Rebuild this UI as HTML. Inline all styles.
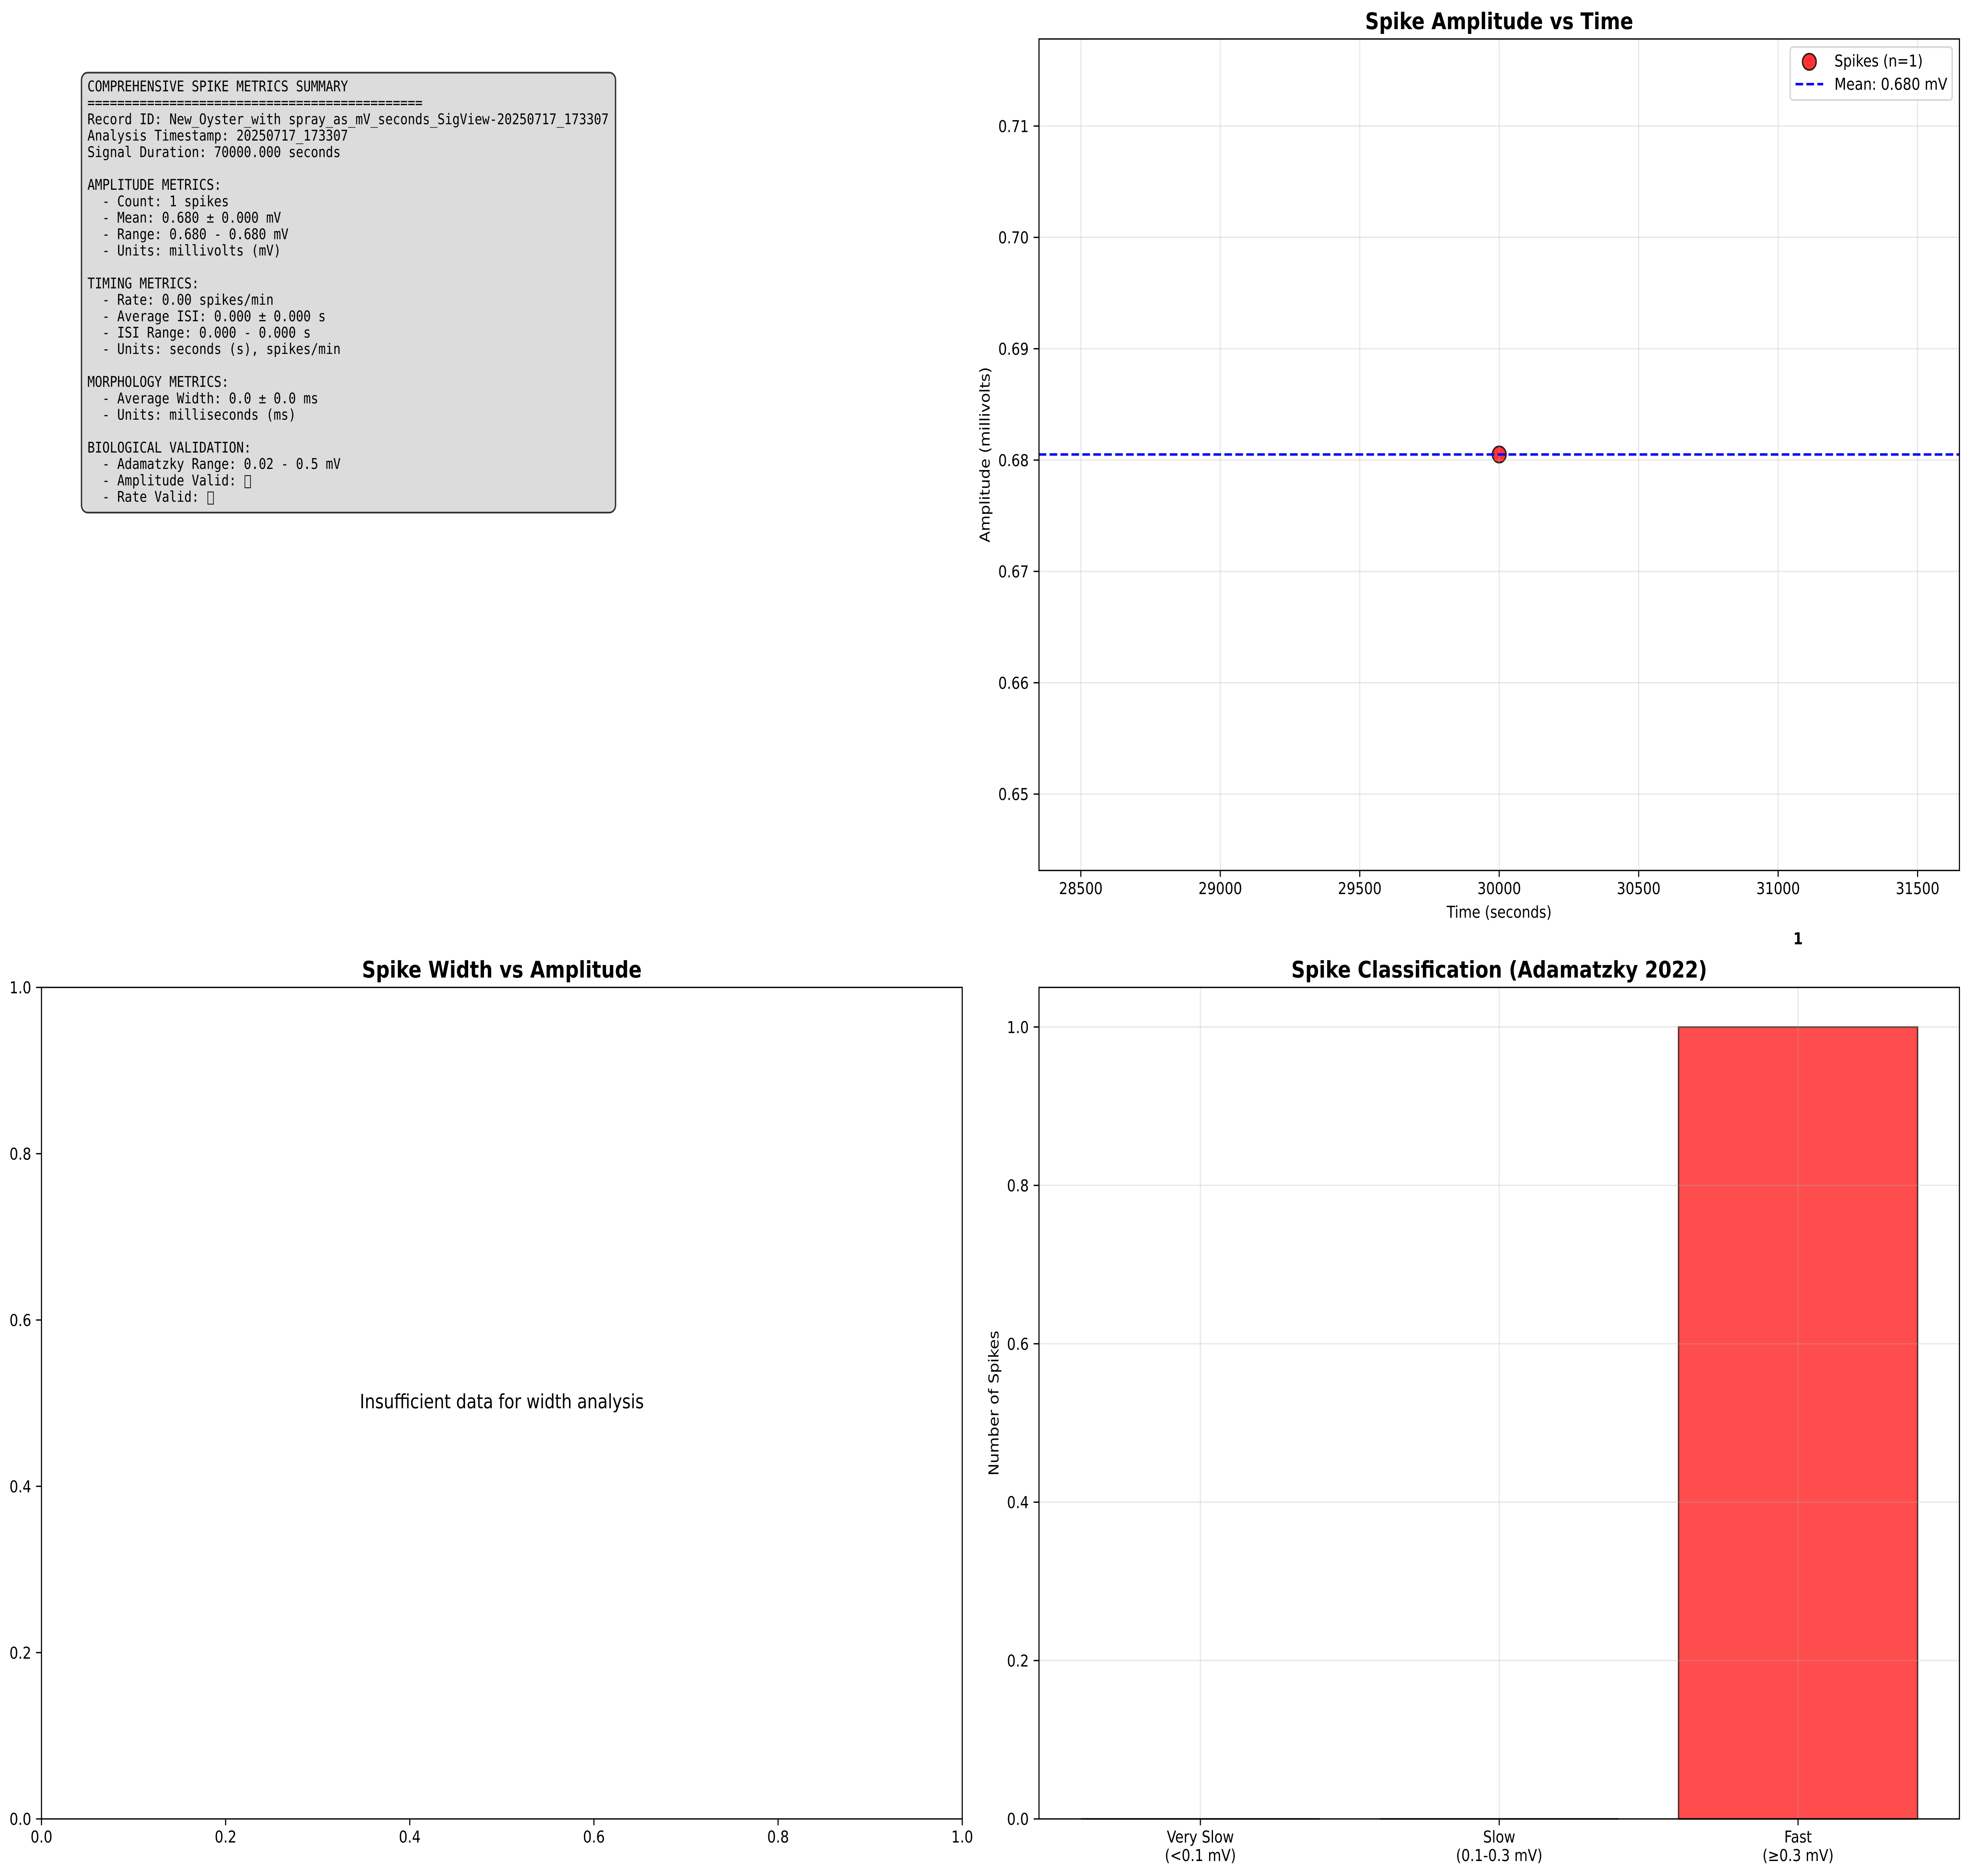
<!DOCTYPE html>
<html lang="en">
<head>
<meta charset="utf-8">
<title>Spike Metrics Summary</title>
<style>
html,body{margin:0;padding:0;background:#fff;width:100%;height:100%;overflow:hidden}
svg{display:block;width:100vw;height:100vh}
text{font-family:"DejaVu Sans",sans-serif;font-size:41.67px;fill:#000;text-rendering:geometricPrecision}
.mono text{font-family:"DejaVu Sans Mono",monospace;font-size:37.5px;white-space:pre}
.title{font-size:58.33px;font-weight:bold;text-anchor:middle}
</style>
</head>
<body>
<svg id="fig" xmlns="http://www.w3.org/2000/svg" viewBox="0 0 5969 4765" preserveAspectRatio="none">
  <rect x="0" y="0" width="5969" height="4765" fill="#fff"/>

  <g class="mono" xml:space="preserve">
    <rect x="247" y="184.5" width="1619" height="1117.5" rx="18.75" ry="18.75" fill="#dcdcdc" stroke="#333" stroke-width="4.17"/>
    <text x="265" y="232">COMPREHENSIVE SPIKE METRICS SUMMARY</text>
    <text x="265" y="273.7">=============================================</text>
    <text x="265" y="315.4">Record ID: New_Oyster_with spray_as_mV_seconds_SigView-20250717_173307</text>
    <text x="265" y="357.1">Analysis Timestamp: 20250717_173307</text>
    <text x="265" y="398.8">Signal Duration: 70000.000 seconds</text>
    <text x="265" y="482.2">AMPLITUDE METRICS:</text>
    <text x="265" y="523.9">  - Count: 1 spikes</text>
    <text x="265" y="565.6">  - Mean: 0.680 ± 0.000 mV</text>
    <text x="265" y="607.3">  - Range: 0.680 - 0.680 mV</text>
    <text x="265" y="649">  - Units: millivolts (mV)</text>
    <text x="265" y="732.4">TIMING METRICS:</text>
    <text x="265" y="774.1">  - Rate: 0.00 spikes/min</text>
    <text x="265" y="815.8">  - Average ISI: 0.000 ± 0.000 s</text>
    <text x="265" y="857.5">  - ISI Range: 0.000 - 0.000 s</text>
    <text x="265" y="899.2">  - Units: seconds (s), spikes/min</text>
    <text x="265" y="982.6">MORPHOLOGY METRICS:</text>
    <text x="265" y="1024.3">  - Average Width: 0.0 ± 0.0 ms</text>
    <text x="265" y="1066">  - Units: milliseconds (ms)</text>
    <text x="265" y="1149.4">BIOLOGICAL VALIDATION:</text>
    <text x="265" y="1191.1">  - Adamatzky Range: 0.02 - 0.5 mV</text>
    <text x="265" y="1232.8">  - Amplitude Valid: </text>
    <rect x="742.5" y="1208" width="17" height="31" fill="none" stroke="#000" stroke-width="2"/>
    <text x="265" y="1274.5">  - Rate Valid: </text>
    <rect x="630" y="1249.5" width="17" height="31" fill="none" stroke="#000" stroke-width="2"/>
  </g>

  <g id="amp"></g>
  <g id="width"></g>
  <g id="cls"></g>

  <g>
    <rect x="5427" y="119.5" width="491" height="134.5" rx="8.3" ry="8.3" fill="#fff" fill-opacity="0.8" stroke="#ccc" stroke-opacity="0.8" stroke-width="4.17"/>
    <circle cx="5485" cy="157" r="20.83" fill="#f00" fill-opacity="0.8" stroke="#000" stroke-opacity="0.8" stroke-width="4.17"/>
    <text x="5561" y="169">Spikes (n=1)</text>
    <line x1="5443" y1="213.7" x2="5527" y2="213.7" stroke="#00f" stroke-width="6.25" stroke-dasharray="23.125 10"/>
    <text x="5561" y="228">Mean: 0.680 mV</text>
  </g>
</svg>
<script>
// Chart data: amplitude vs time
const spikeTimes = [30000];
const spikeAmplitudes = [0.6805];
const meanAmplitude = [0.6805];
const ampXTicks = [28500, 29000, 29500, 30000, 30500, 31000, 31500];
const ampYTicks = [0.65, 0.66, 0.67, 0.68, 0.69, 0.70, 0.71];
const ampXDomain = [28350, 31650];
const ampYDomain = [0.64314, 0.71782];

// Chart data: empty width plot
const widthTicks = [0, 0.2, 0.4, 0.6, 0.8, 1];
const widthMessage = ['Insufficient data for width analysis'];

// Chart data: classification
const classCategories = [['Very Slow', '(<0.1 mV)'], ['Slow', '(0.1-0.3 mV)'], ['Fast', '(\u22650.3 mV)']];
const classCounts = [0, 0, 1];
const classColors = ['#00f', '#ffa500', '#f00'];
const classYTicks = [0, 0.2, 0.4, 0.6, 0.8, 1];
const classXDomain = [-0.54, 2.54];
const classYDomain = [0, 1.05];

const NS = 'http://www.w3.org/2000/svg';
const TICK = 14.6, PAD = 14.6, SPINE = 3.33, GRID_W = 3.33;
const boxes = {
  amp:   { l: 3149.7, r: 5940, t: 99,   b: 2211 },
  width: { l: 125.7,  r: 2917, t: 2508, b: 4620 },
  cls:   { l: 3149.7, r: 5940, t: 2508, b: 4620 }
};
function make(tag, parent) {
  const el = document.createElementNS(NS, tag);
  parent.appendChild(el);
  return el;
}
function setLine(el, x1, y1, x2, y2, color, w) {
  el.setAttribute('x1', x1);
  el.setAttribute('y1', y1);
  el.setAttribute('x2', x2);
  el.setAttribute('y2', y2);
  el.setAttribute('stroke', color);
  el.setAttribute('stroke-width', w);
}
function setText(el, x, y, anchor, str) {
  el.setAttribute('x', x);
  el.setAttribute('y', y);
  el.setAttribute('text-anchor', anchor);
  el.textContent = str;
}
function scale(domain, a, b) {
  return v => a + (v - domain[0]) / (domain[1] - domain[0]) * (b - a);
}
function gridX(g, box, x) {
  const el = make('line', g);
  setLine(el, x, box.t, x, box.b, '#b0b0b0', GRID_W);
  el.setAttribute('stroke-opacity', '0.3');
  
  
}
function gridY(g, box, y) {
  const el = make('line', g);
  setLine(el, box.l, y, box.r, y, '#b0b0b0', GRID_W);
  el.setAttribute('stroke-opacity', '0.3');
  
  
}
function tickX(g, box, x, lines) {
  const el = make('line', g);
  setLine(el, x, box.b, x, box.b + TICK + SPINE / 2, '#000', SPINE);
  
  
  lines.forEach((s, i) => {
    const t = make('text', g);
    setText(t, x, box.b + 60 + i * 47, 'middle', s);
    
    
  });
}
function tickY(g, box, y, label) {
  const el = make('line', g);
  setLine(el, box.l - TICK - SPINE / 2, y, box.l, y, '#000', SPINE);
  
  
  const t = make('text', g);
  setText(t, box.l - TICK - PAD - SPINE / 2, y + 15.2, 'end', label);
  
  
}
function spines(g, box) {
  const el = make('rect', g);
  el.setAttribute('x', box.l);
  el.setAttribute('y', box.t);
  el.setAttribute('width', box.r - box.l);
  el.setAttribute('height', box.b - box.t);
  el.setAttribute('fill', 'none');
  el.setAttribute('stroke', '#000');
  el.setAttribute('stroke-width', SPINE);
  
  
}
function title(g, box, str) {
  const t = make('text', g);
  setText(t, (box.l + box.r) / 2, box.t - 25, 'middle', str);
  t.setAttribute('class', 'title');
  
  
}
function xLabel(g, box, y, str) {
  const t = make('text', g);
  setText(t, (box.l + box.r) / 2, y, 'middle', str);
  
  
}
function yLabel(g, box, x, str) {
  const t = make('text', g);
  const cy = (box.t + box.b) / 2;
  setText(t, x, cy, 'middle', str);
  t.setAttribute('transform', 'rotate(-90 ' + x + ' ' + cy + ')');
  
  
}

// --- Amplitude vs time ---
(function () {
  const g = document.getElementById('amp');
  const box = boxes.amp;
  const x = scale(ampXDomain, box.l, box.r);
  const y = scale(ampYDomain, box.b, box.t);
  spikeTimes.forEach((t, i) => {
    const c = make('circle', g);
    c.setAttribute('cx', x(t));
    c.setAttribute('cy', y(spikeAmplitudes[i]));
    c.setAttribute('r', 20.83);
    c.setAttribute('fill', '#f00');
    c.setAttribute('fill-opacity', '0.8');
    c.setAttribute('stroke', '#000');
    c.setAttribute('stroke-opacity', '0.8');
    c.setAttribute('stroke-width', 4.17);
    
    
  });
  ampXTicks.forEach(v => gridX(g, box, x(v)));
  ampYTicks.forEach(v => gridY(g, box, y(v)));
  meanAmplitude.forEach(m => {
    const l = make('line', g);
    setLine(l, box.l - 1, y(m), box.r, y(m), '#00f', 6.25);
    l.setAttribute('stroke-dasharray', '23.125 10');
    
    
  });
  ampXTicks.forEach(v => tickX(g, box, x(v), [String(v)]));
  ampYTicks.forEach(v => tickY(g, box, y(v), v.toFixed(2)));
  spines(g, box);
  title(g, box, 'Spike Amplitude vs Time');
  xLabel(g, box, 2331, 'Time (seconds)');
  yLabel(g, box, 3000, 'Amplitude (millivolts)');
})();

// --- Width vs amplitude (no data) ---
(function () {
  const g = document.getElementById('width');
  const box = boxes.width;
  const x = scale([0, 1], box.l, box.r);
  const y = scale([0, 1], box.b, box.t);
  widthTicks.forEach(v => tickX(g, box, x(v), [v.toFixed(1)]));
  widthTicks.forEach(v => tickY(g, box, y(v), v.toFixed(1)));
  spines(g, box);
  title(g, box, 'Spike Width vs Amplitude');
  const t = make('text', g);
  setText(t, x(0.5), y(0.5) + 13, 'middle', widthMessage[0]);
  t.style.fontSize = '50px';
  
  
})();

// --- Classification bars ---
(function () {
  const g = document.getElementById('cls');
  const box = boxes.cls;
  const x = scale(classXDomain, box.l, box.r);
  const y = scale(classYDomain, box.b, box.t);
  const barW = 0.8;
  classCounts.forEach((v, i) => {
    const p = make('path', g);
    const x0 = x(i - barW / 2), x1 = x(i + barW / 2);
    p.setAttribute('d', 'M' + x0 + ' ' + y(0) + 'H' + x1 + 'V' + y(v) + 'H' + x0 + 'Z');
    p.setAttribute('fill', classColors[i]);
    p.setAttribute('fill-opacity', '0.7');
    p.setAttribute('stroke', '#000');
    p.setAttribute('stroke-opacity', '0.7');
    p.setAttribute('stroke-width', 4.17);
    
    
  });
  classCategories.forEach((c, i) => gridX(g, box, x(i)));
  classYTicks.forEach(v => gridY(g, box, y(v)));
  classCategories.forEach((c, i) => tickX(g, box, x(i), c));
  classYTicks.forEach(v => tickY(g, box, y(v), v.toFixed(1)));
  spines(g, box);
  title(g, box, 'Spike Classification (Adamatzky 2022)');
  yLabel(g, box, 3027, 'Number of Spikes');
  classCounts.forEach((v, i) => {
    if (v <= 0) return;
    const t = make('text', g);
    setText(t, x(i), y(v) - 210, 'middle', String(v));
    t.setAttribute('font-weight', 'bold');
    
    
  });
})();
</script>
</body>
</html>
